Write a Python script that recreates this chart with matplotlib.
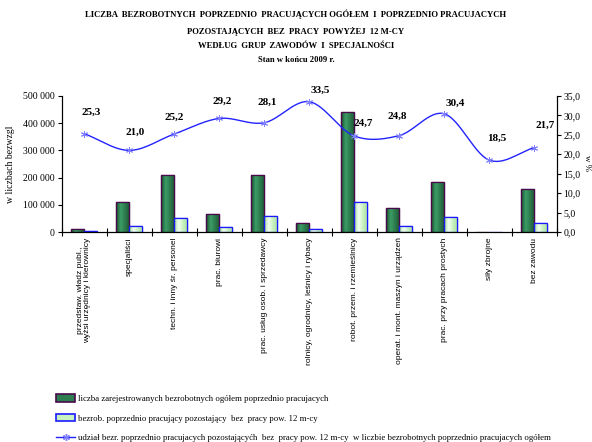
import matplotlib
matplotlib.use('Agg')
import matplotlib.pyplot as plt
import numpy as np
from matplotlib.colors import LinearSegmentedColormap
from matplotlib.patches import Rectangle
from matplotlib.lines import Line2D

plt.rcParams['font.family'] = ['Liberation Serif', 'DejaVu Serif']

categories = ['przedstaw. władz publ.,\nwyżsi urzędnicy i kierownicy', 'specjaliści',
              'techn. i inny śr. personel', 'prac. biurowi', 'prac. usług osob. i sprzedawcy',
              'rolnicy, ogrodnicy, leśnicy i rybacy', 'robot. przem. i rzemieślnicy',
              'operat. i mont. maszyn i urządzeń', 'prac. przy pracach prostych',
              'siły zbrojne', 'bez zawodu']
ogolem = [10000, 110000, 208000, 68000, 208000, 35000, 442000, 87000, 184000, 0, 157000]
pow12 = [4000, 24000, 52000, 20000, 58000, 12000, 110000, 23000, 56000, 0, 35000]
udzial = [25.3, 21.0, 25.2, 29.2, 28.1, 33.5, 24.7, 24.8, 30.4, 18.5, 21.7]
# label offsets in pixels (dx, dy) for percent labels
lab_off = [(7, 17), (6, 14), (0, 12), (3, 13), (3, 16), (11, 7), (9, 8), (-2, 15), (11, 6), (8, 17), (11, 18)]

leg_labels = ['liczba zarejestrowanych bezrobotnych ogółem poprzednio pracujacych',
              'bezrob. poprzednio pracujący pozostający  bez  pracy pow. 12 m-cy',
              'udział bezr. poprzednio pracujacych pozostającyćh  bez  pracy pow. 12 m-cy  w liczbie bezrobotnych poprzednio pracujacych ogółem']
title = ('LICZBA  BEZROBOTNYCH  POPRZEDNIO  PRACUJĄCYCH OGÓŁEM  I  POPRZEDNIO PRACUJACYCH\n'
         'POZOSTAJĄCYCH  BEZ  PRACY  POWYŻEJ  12 M-CY\n'
         'WEDŁUG  GRUP  ZAWODÓW  I  SPECJALNOŚCI\n'
         'Stan w końcu 2009 r.')


def catmull(xs, ys, n=30):
    xs = np.asarray(xs, float); ys = np.asarray(ys, float)
    px = np.concatenate([[2*xs[0]-xs[1]], xs, [2*xs[-1]-xs[-2]]])
    py = np.concatenate([[2*ys[0]-ys[1]], ys, [2*ys[-1]-ys[-2]]])
    ox, oy = [], []
    for i in range(1, len(px)-2):
        t = np.linspace(0, 1, n)
        for p, o in ((px, ox), (py, oy)):
            p0, p1, p2, p3 = p[i-1], p[i], p[i+1], p[i+2]
            o.extend(0.5*((2*p1) + (-p0+p2)*t + (2*p0-5*p1+4*p2-p3)*t**2 + (-p0+3*p1-3*p2+p3)*t**3))
    return np.array(ox), np.array(oy)


fig = plt.figure(figsize=(5.92, 4.42), dpi=100)
ax = fig.add_axes([0.1042, 0.475, 0.8362, 0.308])
x = np.arange(len(categories))
w = 0.29

b1 = ax.bar(x - w/2, ogolem, w, color='#2e7d50', edgecolor='#4a0a4a', linewidth=0.9, zorder=2)
b2 = ax.bar(x + w/2, pow12, w, color='#c8f2c0', edgecolor='#1a1aff', linewidth=0.9, zorder=2)

cm_g = LinearSegmentedColormap.from_list('g', ['#174d2c', '#3c9c66', '#2c7a4c', '#1c5434'])
cm_l = LinearSegmentedColormap.from_list('l', ['#9fdc98', '#f2fff0', '#c6f0bd', '#a8e0a0'])
grad = np.linspace(0, 1, 64).reshape(1, -1)
for bars, cm in ((b1, cm_g), (b2, cm_l)):
    for r in bars:
        if r.get_height() <= 0:
            continue
        im = ax.imshow(grad, cmap=cm, aspect='auto', zorder=2.1,
                       extent=[r.get_x(), r.get_x() + r.get_width(), 0, r.get_height()])
        im.set_clip_path(r)
        edge = Rectangle((r.get_x(), 0), r.get_width(), r.get_height(), fill=False,
                         edgecolor=r.get_edgecolor(), linewidth=0.9, zorder=2.2)
        ax.add_patch(edge)

ax.set_xlim(-0.5, len(categories) - 0.5)
ax.set_ylim(0, 500000)
ax.set_yticks(np.arange(0, 500001, 100000))
ax.set_yticklabels(['0' if v == 0 else f'{v//1000} 000' for v in range(0, 500001, 100000)], fontsize=7)
ax.set_xticks(np.arange(-0.5, len(categories)), minor=False)
ax.set_xticklabels([])
ax.set_xticks(x, minor=True)
ax.set_xticklabels(categories, minor=True, rotation=90, fontsize=6, family='Liberation Sans',
                   va='top', ha='center', linespacing=1.1)
ax.tick_params(axis='x', which='minor', length=0, pad=4)
ax.tick_params(axis='x', which='major', direction='inout', length=6)
ax.tick_params(axis='y', length=3, pad=2)
ax.spines['top'].set_visible(False)
ax.set_ylabel('w liczbach bezwzgl', fontsize=7, labelpad=6)

ax2 = ax.twinx()
ax2.set_ylim(0, 35)
ax2.set_yticks(np.arange(0, 36, 5))
ax2.set_yticklabels([f'{v:.1f}'.replace('.', ',') for v in np.arange(0, 36, 5)], fontsize=7)
ax2.tick_params(axis='y', length=3, pad=2)
ax2.spines['top'].set_visible(False)
fig.text(587/592, 0.63, 'w %', rotation=270, ha='center', va='center', fontsize=6.5)

sx, sy = catmull(x, udzial)
ax2.plot(sx, sy, color='#2323ff', lw=1.0, zorder=3)
ax2.plot(x, udzial, ls='none', marker=(6, 2, 0), ms=5, mec='#8080ff', mew=0.7, zorder=4)
for i, v in enumerate(udzial):
    dx, dy = lab_off[i]
    ax2.annotate(f'{v:.1f}'.replace('.', ','), (x[i], v), xytext=(dx*0.72, dy*0.72),
                 textcoords='offset points', ha='center', va='bottom', fontsize=8, fontweight='bold')

fig.text(0.5, 0.978, title, ha='center', va='top', fontsize=6.2, fontweight='bold', linespacing=2.05)

h1 = Rectangle((0, 0), 1, 1, facecolor='#2e7d50', edgecolor='#4a0a4a', linewidth=1.2)
h2 = Rectangle((0, 0), 1, 1, facecolor='#c8f2c0', edgecolor='#1a1aff', linewidth=1.2)
h3 = Line2D([], [], color='#2323ff', lw=1.0, marker=(6, 2, 0), ms=5, mec='#8080ff')
fig.legend([h1, h2, h3], leg_labels, loc='upper left', bbox_to_anchor=(0.095, 0.108),
           frameon=False, fontsize=6.3, handlelength=2.2, handleheight=0.9, handletextpad=0.3,
           labelspacing=1.25, borderaxespad=0, borderpad=0)

fig.savefig('out.png', dpi=100)
